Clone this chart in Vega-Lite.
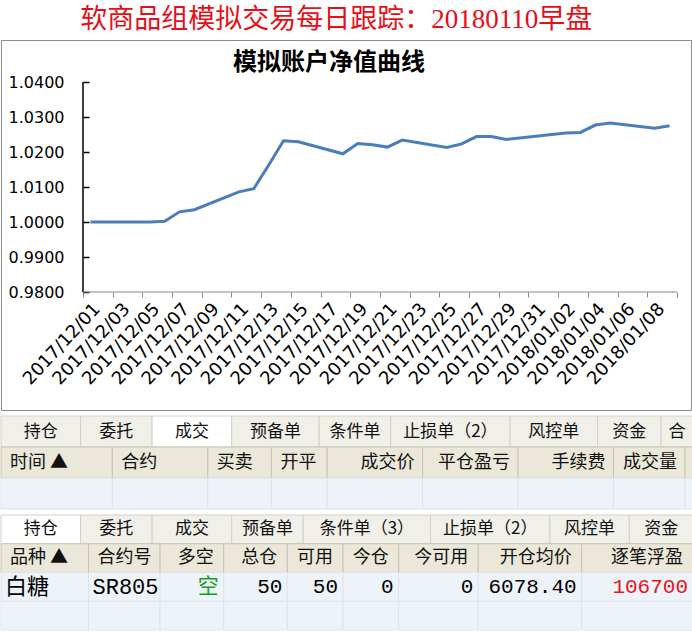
{
  "$schema": "https://vega.github.io/schema/vega-lite/v6.json",
  "background": "white",
  "padding": {"left": 0, "top": 5, "right": 0, "bottom": 0},
  "title": {"text": "软商品组模拟交易每日跟踪：20180110早盘", "color": "#e60f18", "fontSize": 27, "font": "Liberation Serif, Noto Sans CJK SC", "fontWeight": "normal", "anchor": "middle", "dx": -13, "offset": 6, "baseline": "top"},
  "datasets": {
    "nav": [
      {"date": "2017/12/01", "nav": 1.0000},
      {"date": "2017/12/04", "nav": 1.0000},
      {"date": "2017/12/05", "nav": 1.0000},
      {"date": "2017/12/06", "nav": 1.0002},
      {"date": "2017/12/07", "nav": 1.0029},
      {"date": "2017/12/08", "nav": 1.0035},
      {"date": "2017/12/11", "nav": 1.0086},
      {"date": "2017/12/12", "nav": 1.0095},
      {"date": "2017/12/13", "nav": 1.0162},
      {"date": "2017/12/14", "nav": 1.0232},
      {"date": "2017/12/15", "nav": 1.0229},
      {"date": "2017/12/18", "nav": 1.0195},
      {"date": "2017/12/19", "nav": 1.0224},
      {"date": "2017/12/20", "nav": 1.0221},
      {"date": "2017/12/21", "nav": 1.0214},
      {"date": "2017/12/22", "nav": 1.0234},
      {"date": "2017/12/25", "nav": 1.0213},
      {"date": "2017/12/26", "nav": 1.0223},
      {"date": "2017/12/27", "nav": 1.0244},
      {"date": "2017/12/28", "nav": 1.0244},
      {"date": "2017/12/29", "nav": 1.0236},
      {"date": "2018/01/02", "nav": 1.0254},
      {"date": "2018/01/03", "nav": 1.0256},
      {"date": "2018/01/04", "nav": 1.0277},
      {"date": "2018/01/05", "nav": 1.0283},
      {"date": "2018/01/08", "nav": 1.0268},
      {"date": "2018/01/09", "nav": 1.0275}
    ],
    "t1": [
      {"r": "tabs", "c": 1, "label": "持仓", "span": 10},
      {"r": "tabs", "c": 2, "label": "委托", "span": 9},
      {"r": "tabs", "c": 3, "label": "成交", "span": 10, "active": true},
      {"r": "tabs", "c": 4, "label": "预备单", "span": 11},
      {"r": "tabs", "c": 5, "label": "条件单", "span": 9},
      {"r": "tabs", "c": 6, "label": "止损单（2）", "span": 15},
      {"r": "tabs", "c": 7, "label": "风控单", "span": 11},
      {"r": "tabs", "c": 8, "label": "资金", "span": 8},
      {"r": "tabs", "c": 9, "label": "合", "span": 4},
      {"r": "head", "c": 1, "label": "时间 ▲", "span": 14},
      {"r": "head", "c": 2, "label": "合约", "span": 12},
      {"r": "head", "c": 3, "label": "买卖", "span": 8},
      {"r": "head", "c": 4, "label": "开平", "span": 7},
      {"r": "head", "c": 5, "label": "成交价", "span": 12, "num": true},
      {"r": "head", "c": 6, "label": "平仓盈亏", "span": 12, "num": true},
      {"r": "head", "c": 7, "label": "手续费", "span": 12, "num": true},
      {"r": "head", "c": 8, "label": "成交量", "span": 9, "num": true},
      {"r": "head", "c": 9, "label": "", "span": 1},
      {"r": "row1", "c": 1, "label": "", "span": 14},
      {"r": "row1", "c": 2, "label": "", "span": 12},
      {"r": "row1", "c": 3, "label": "", "span": 8},
      {"r": "row1", "c": 4, "label": "", "span": 7},
      {"r": "row1", "c": 5, "label": "", "span": 12, "num": true},
      {"r": "row1", "c": 6, "label": "", "span": 12, "num": true},
      {"r": "row1", "c": 7, "label": "", "span": 12, "num": true},
      {"r": "row1", "c": 8, "label": "", "span": 9, "num": true},
      {"r": "row1", "c": 9, "label": "", "span": 1}
    ],
    "t2": [
      {"r": "tabs", "c": 1, "label": "持仓", "span": 10, "active": true},
      {"r": "tabs", "c": 2, "label": "委托", "span": 9},
      {"r": "tabs", "c": 3, "label": "成交", "span": 10},
      {"r": "tabs", "c": 4, "label": "预备单", "span": 9},
      {"r": "tabs", "c": 5, "label": "条件单（3）", "span": 16},
      {"r": "tabs", "c": 6, "label": "止损单（2）", "span": 15},
      {"r": "tabs", "c": 7, "label": "风控单", "span": 10},
      {"r": "tabs", "c": 8, "label": "资金", "span": 8},
      {"r": "head", "c": 1, "label": "品种 ▲", "span": 11},
      {"r": "head", "c": 2, "label": "合约号", "span": 9},
      {"r": "head", "c": 3, "label": "多空", "span": 8, "num": true},
      {"r": "head", "c": 4, "label": "总仓", "span": 8, "num": true},
      {"r": "head", "c": 5, "label": "可用", "span": 7, "num": true},
      {"r": "head", "c": 6, "label": "今仓", "span": 7, "num": true},
      {"r": "head", "c": 7, "label": "今可用", "span": 10, "num": true},
      {"r": "head", "c": 8, "label": "开仓均价", "span": 13, "num": true},
      {"r": "head", "c": 9, "label": "逐笔浮盈", "span": 14, "num": true},
      {"r": "row1", "c": 1, "label": "白糖", "span": 11},
      {"r": "row1", "c": 2, "label": "SR805", "span": 9},
      {"r": "row1", "c": 3, "label": "空", "span": 8, "num": true},
      {"r": "row1", "c": 4, "label": "50", "span": 8, "num": true},
      {"r": "row1", "c": 5, "label": "50", "span": 7, "num": true},
      {"r": "row1", "c": 6, "label": "0", "span": 7, "num": true},
      {"r": "row1", "c": 7, "label": "0", "span": 10, "num": true},
      {"r": "row1", "c": 8, "label": "6078.40", "span": 13, "num": true},
      {"r": "row1", "c": 9, "label": "106700", "span": 14, "num": true},
      {"r": "row2", "c": 1, "label": "", "span": 11},
      {"r": "row2", "c": 2, "label": "", "span": 9},
      {"r": "row2", "c": 3, "label": "", "span": 8, "num": true},
      {"r": "row2", "c": 4, "label": "", "span": 8, "num": true},
      {"r": "row2", "c": 5, "label": "", "span": 7, "num": true},
      {"r": "row2", "c": 6, "label": "", "span": 7, "num": true},
      {"r": "row2", "c": 7, "label": "", "span": 10, "num": true},
      {"r": "row2", "c": 8, "label": "", "span": 13, "num": true},
      {"r": "row2", "c": 9, "label": "", "span": 14, "num": true}
    ]
  },
  "spacing": 4,
  "vconcat": [
    {
      "width": 690,
      "height": 370,
      "view": {"stroke": "#8c8c8c", "strokeWidth": 1},
      "title": {"text": "模拟账户净值曲线", "fontSize": 24, "fontWeight": "bold", "font": "Noto Sans CJK SC", "color": "#000", "anchor": "middle", "dx": -17, "offset": -35, "baseline": "top"},
      "resolve": {"axis": {"x": "independent", "y": "independent"}},
      "layer": [
        {
          "data": {"name": "nav"},
          "mark": {"type": "line", "color": "#4a7ebb", "strokeWidth": 3},
          "encoding": {
            "x": {
              "field": "date", "type": "temporal", "timeUnit": "yearmonthdate", "bandPosition": 0.5,
              "scale": {"domain": [{"year": 2017, "month": 11, "date": 25, "hours": 11, "minutes": 29}, {"year": 2018, "month": 1, "date": 10, "hours": 22, "minutes": 38}]},
              "axis": {
                "title": null, "grid": false, "domain": false, "offset": -118,
                "values": [
                  {"year": 2017, "month": 12, "date": 1}, {"year": 2017, "month": 12, "date": 3}, {"year": 2017, "month": 12, "date": 5},
                  {"year": 2017, "month": 12, "date": 7}, {"year": 2017, "month": 12, "date": 9}, {"year": 2017, "month": 12, "date": 11},
                  {"year": 2017, "month": 12, "date": 13}, {"year": 2017, "month": 12, "date": 15}, {"year": 2017, "month": 12, "date": 17},
                  {"year": 2017, "month": 12, "date": 19}, {"year": 2017, "month": 12, "date": 21}, {"year": 2017, "month": 12, "date": 23},
                  {"year": 2017, "month": 12, "date": 25}, {"year": 2017, "month": 12, "date": 27}, {"year": 2017, "month": 12, "date": 29},
                  {"year": 2017, "month": 12, "date": 31}, {"year": 2018, "month": 1, "date": 2}, {"year": 2018, "month": 1, "date": 4},
                  {"year": 2018, "month": 1, "date": 6}, {"year": 2018, "month": 1, "date": 8}, {"year": 2018, "month": 1, "date": 10}
                ],
                "format": "%Y/%m/%d", "formatType": "time",
                "labelExpr": "datum.index >= 1 ? '' : datum.label",
                "labelAngle": -47, "labelAlign": "right", "labelBaseline": "middle",
                "labelOffset": 14, "labelPadding": 9, "labelFontSize": 18, "labelFont": "DejaVu Sans", "labelColor": "#000",
                "labelOverlap": false, "labelFlush": false, "labelBound": false,
                "tickSize": 5, "tickColor": "#868686"
              }
            },
            "y": {
              "field": "nav", "type": "quantitative",
              "scale": {"domain": [0.946286, 1.052], "zero": false, "nice": false},
              "axis": {
                "title": null, "grid": false, "domain": false, "offset": -82,
                "values": [0.98, 0.99, 1.0, 1.01, 1.02, 1.03, 1.04],
                "format": ".4f",
                "tickColor": "#000", "tickWidth": 1.5, "tickSize": -6,
                "labelPadding": 25, "labelFontSize": 16, "labelFont": "DejaVu Sans", "labelColor": "#000",
                "labelOverlap": false
              }
            }
          }
        },
        {
          "data": {"values": [{}]},
          "mark": {"type": "rule", "color": "#868686", "strokeWidth": 1},
          "encoding": {
            "x": {"datum": {"year": 2017, "month": 12, "date": 1}, "type": "temporal", "axis": null},
            "x2": {"datum": {"year": 2018, "month": 1, "date": 10}},
            "y": {"datum": 0.98, "type": "quantitative", "axis": null}
          }
        },
        {
          "data": {"values": [{}]},
          "mark": {"type": "rule", "color": "#000", "strokeWidth": 1.5},
          "encoding": {
            "x": {"datum": {"year": 2017, "month": 12, "date": 1}, "type": "temporal", "axis": null},
            "y": {"datum": 0.98, "type": "quantitative", "axis": null},
            "y2": {"datum": 1.04}
          }
        }
      ]
    },
    {
      "width": 692,
      "height": 93,
      "data": {"name": "t1"},
      "transform": [
        {"stack": "span", "groupby": ["r"], "sort": [{"field": "c", "order": "ascending"}], "as": ["x0", "x1"]},
        {"calculate": "(datum.x0 + datum.x1) / 2", "as": "xm"},
        {"calculate": "datum.active ? 'on' : (datum.r == 'tabs' || datum.r == 'head' ? datum.r : 'cell')", "as": "part"}
      ],
      "encoding": {
        "y": {"field": "r", "type": "nominal", "sort": ["tabs", "head", "row1"], "axis": null, "scale": {"paddingInner": 0, "paddingOuter": 0}}
      },
      "layer": [
        {
          "mark": {"type": "rect", "strokeWidth": 1},
          "encoding": {
            "x": {"field": "x0", "type": "quantitative", "scale": {"domain": [0, 87], "nice": false, "zero": false}, "axis": null},
            "x2": {"field": "x1"},
            "fill": {"field": "part", "type": "nominal", "scale": {"domain": ["tabs", "on", "head", "cell"], "range": ["#f0efe8", "#ffffff", "#ebe8d9", "#eef3fa"]}, "legend": null},
            "stroke": {"field": "part", "type": "nominal", "scale": {"domain": ["tabs", "on", "head", "cell"], "range": ["#d3d1c6", "#d3d1c6", "#c6c3b3", "#dce3ec"]}, "legend": null}
          }
        },
        {
          "transform": [{"filter": "datum.r == 'tabs'"}],
          "mark": {"type": "text", "align": "center", "baseline": "middle", "fontSize": 17, "font": "Noto Sans CJK SC", "color": "#111"},
          "encoding": {"x": {"field": "xm", "type": "quantitative"}, "text": {"field": "label"}}
        },
        {
          "transform": [{"filter": "datum.r != 'tabs' && !datum.num"}],
          "mark": {"type": "text", "align": "left", "baseline": "middle", "dx": 9, "fontSize": 18, "font": "Noto Sans CJK SC", "color": "#111"},
          "encoding": {"x": {"field": "x0", "type": "quantitative"}, "text": {"field": "label"}}
        },
        {
          "transform": [{"filter": "datum.r != 'tabs' && datum.num"}],
          "mark": {"type": "text", "align": "right", "baseline": "middle", "dx": -8, "fontSize": 18, "font": "Noto Sans CJK SC", "color": "#111"},
          "encoding": {"x": {"field": "x1", "type": "quantitative"}, "text": {"field": "label"}}
        }
      ]
    },
    {
      "width": 692,
      "height": 115,
      "data": {"name": "t2"},
      "transform": [
        {"stack": "span", "groupby": ["r"], "sort": [{"field": "c", "order": "ascending"}], "as": ["x0", "x1"]},
        {"calculate": "(datum.x0 + datum.x1) / 2", "as": "xm"},
        {"calculate": "datum.active ? 'on' : (datum.r == 'tabs' || datum.r == 'head' ? datum.r : 'cell')", "as": "part"}
      ],
      "encoding": {
        "y": {"field": "r", "type": "nominal", "sort": ["tabs", "head", "row1", "row2"], "axis": null, "scale": {"paddingInner": 0, "paddingOuter": 0}}
      },
      "layer": [
        {
          "mark": {"type": "rect", "strokeWidth": 1},
          "encoding": {
            "x": {"field": "x0", "type": "quantitative", "scale": {"domain": [0, 87], "nice": false, "zero": false}, "axis": null},
            "x2": {"field": "x1"},
            "fill": {"field": "part", "type": "nominal", "scale": {"domain": ["tabs", "on", "head", "cell"], "range": ["#f0efe8", "#ffffff", "#ebe8d9", "#eef3fa"]}, "legend": null},
            "stroke": {"field": "part", "type": "nominal", "scale": {"domain": ["tabs", "on", "head", "cell"], "range": ["#d3d1c6", "#d3d1c6", "#c6c3b3", "#dce3ec"]}, "legend": null}
          }
        },
        {
          "transform": [{"filter": "datum.r == 'tabs'"}],
          "mark": {"type": "text", "align": "center", "baseline": "middle", "fontSize": 17, "font": "Noto Sans CJK SC", "color": "#111"},
          "encoding": {"x": {"field": "xm", "type": "quantitative"}, "text": {"field": "label"}}
        },
        {
          "transform": [{"filter": "datum.r == 'head' && !datum.num"}],
          "mark": {"type": "text", "align": "left", "baseline": "middle", "dx": 9, "fontSize": 18, "font": "Noto Sans CJK SC", "color": "#111"},
          "encoding": {"x": {"field": "x0", "type": "quantitative"}, "text": {"field": "label"}}
        },
        {
          "transform": [{"filter": "datum.r == 'head' && datum.num"}],
          "mark": {"type": "text", "align": "right", "baseline": "middle", "dx": -10, "fontSize": 18, "font": "Noto Sans CJK SC", "color": "#111"},
          "encoding": {"x": {"field": "x1", "type": "quantitative"}, "text": {"field": "label"}}
        },
        {
          "transform": [{"filter": "datum.r != 'tabs' && datum.r != 'head' && !datum.num"}],
          "mark": {"type": "text", "align": "left", "baseline": "middle", "dx": 4, "fontSize": 22, "font": "Liberation Mono, Noto Sans CJK SC", "color": "#000"},
          "encoding": {"x": {"field": "x0", "type": "quantitative"}, "text": {"field": "label"}}
        },
        {
          "transform": [{"filter": "datum.r != 'tabs' && datum.r != 'head' && datum.num"}],
          "mark": {"type": "text", "align": "right", "baseline": "middle", "dx": -5, "fontSize": 21, "font": "Liberation Mono, Noto Sans CJK SC"},
          "encoding": {
            "x": {"field": "x1", "type": "quantitative"},
            "text": {"field": "label"},
            "color": {"condition": [{"test": "datum.label == '空'", "value": "#1a9f1a"}, {"test": "datum.label == '106700'", "value": "#e8141c"}], "value": "#000"}
          }
        }
      ]
    }
  ],
  "config": {"view": {"stroke": null}, "axis": {"labelOverlap": false}}
}
